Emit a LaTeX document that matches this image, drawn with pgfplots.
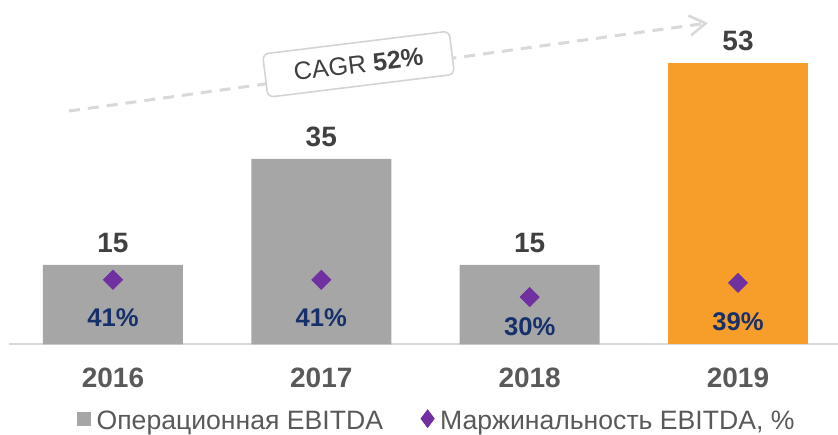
\documentclass[border=0pt]{standalone}
\usepackage{fontspec}
\setmainfont{Liberation Sans}
\usepackage{pgfplots}
\pgfplotsset{compat=1.18}
\usetikzlibrary{arrows.meta}
\definecolor{barGrey}{HTML}{A6A6A6}
\definecolor{barOrange}{HTML}{F69D2A}
\definecolor{purpleM}{HTML}{7030A0}
\definecolor{navyT}{HTML}{16306B}
\definecolor{valDark}{HTML}{404040}
\definecolor{tickGrey}{HTML}{595959}
\definecolor{lineGrey}{HTML}{D9D9D9}
\definecolor{boxGrey}{HTML}{D4D4D4}
\begin{document}
\begin{tikzpicture}
\path[use as bounding box] (0,0) rectangle (419pt,217pt);
\begin{axis}[
  at={(4.4pt,44.85pt)}, anchor=south west,
  scale only axis, width=414.6pt, height=159pt,
  xmin=-0.5, xmax=3.48, ymin=0, ymax=60,
  axis x line*=bottom, axis y line=none,
  axis line style={draw=lineGrey, line width=1pt},
  xtick={0,1,2,3}, xticklabels={2016,2017,2018,2019},
  ytick=\empty,
  major tick length=0pt,
  xticklabel style={font=\fontsize{14}{16}\selectfont\bfseries, text=tickGrey, inner sep=0pt, yshift=-11.4pt},
  ybar, bar width=70pt,
  /pgf/number format/assume math mode=true,
  nodes near coords,
  every node near coord/.append style={font=\fontsize{14}{16}\selectfont\bfseries, text=valDark, inner sep=0pt, anchor=south, yshift=6pt},
  clip=false,
]
\addplot[fill=barGrey, draw=none, bar shift=0pt] coordinates {(0,15) (1,35) (2,15)};
\addplot[fill=barOrange, draw=none, bar shift=0pt] coordinates {(3,53)};
\end{axis}
\begin{axis}[
  at={(4.4pt,44.85pt)}, anchor=south west,
  scale only axis, width=414.6pt, height=159pt,
  xmin=-0.5, xmax=3.48, ymin=0, ymax=202,
  hide axis, clip=false,
  legend columns=2,
  legend style={at={(0.08225,-0.2371)}, anchor=west, draw=none, fill=none, inner sep=0pt,
    font=\fontsize{13.3}{15}\selectfont, text=tickGrey,
    cells={anchor=west},
    nodes={inner sep=0pt, text height=9.5pt, text depth=0pt},
    /tikz/every odd column/.append style={column sep=3pt},
    /tikz/every even column/.append style={column sep=19pt}},
  legend image code/.code={\draw[#1] plot coordinates {(0pt,0.7pt)};},
]
\addlegendimage{only marks, mark=square*, mark size=3.3pt, color=barGrey}
\addlegendimage{only marks, mark=diamond*, mark size=4.4pt, color=purpleM}
\addplot[only marks, mark=square*, mark size=3.36pt, mark options={rotate=45}, color=purpleM, forget plot,
  point meta=explicit symbolic,
  nodes near coords={\pgfplotspointmeta\%},
  visualization depends on={value \thisrow{dy} \as \dy},
  every node near coord/.append style={anchor=center, yshift=\dy pt, font=\fontsize{12.8}{14}\selectfont\bfseries, text=navyT, inner sep=0pt}]
  table[meta=y] {
x y dy
0 41 -19.2
1 41 -19.2
2 30 -15
3 39 -19.2
};
\legend{Операционная EBITDA,{Маржинальность EBITDA, \%}}
\end{axis}
\draw[lineGrey, line width=1.5pt, dash pattern=on 5.5pt off 4pt, -{Straight Barb[length=8pt, width=10pt, line width=1.3pt]}] (34.5pt,161.5pt) -- (354pt,205.5pt);
\node[draw=boxGrey, line width=0.8pt, fill=white, rounded corners=3pt, minimum width=94pt, minimum height=21.75pt, rotate=7, text=valDark, font=\fontsize{12.6}{14}\selectfont, inner sep=0pt] at (179.25pt,184.9pt) {CAGR \textbf{52\%}};
\end{tikzpicture}
\end{document}
